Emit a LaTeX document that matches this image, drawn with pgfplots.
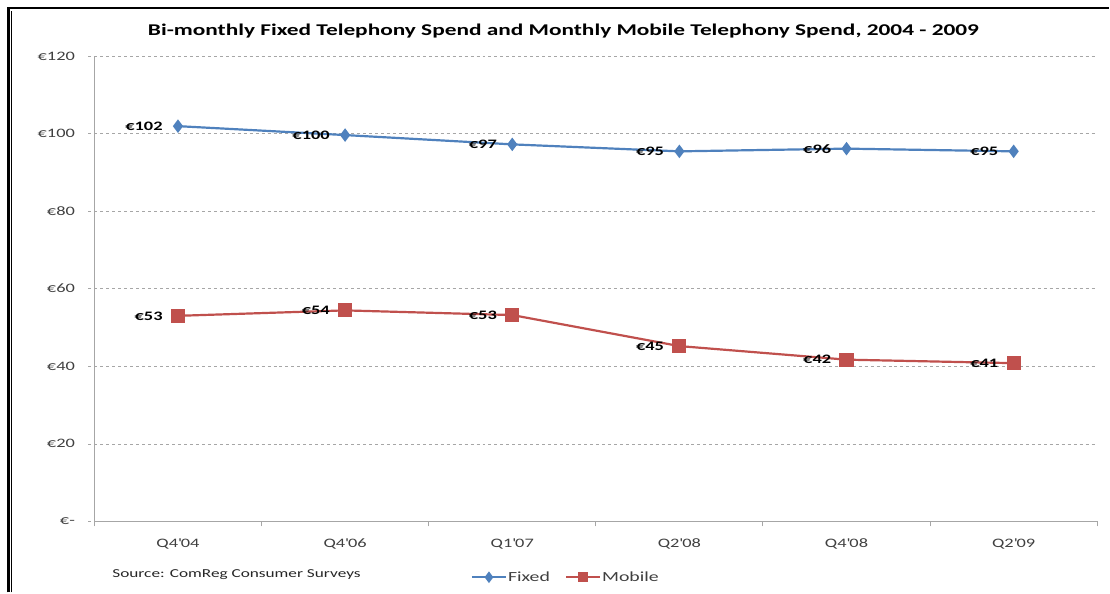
\documentclass[border=0pt]{standalone}
\usepackage{pgfplots}
\pgfplotsset{compat=1.18}
\usepackage{fontspec}
\setmainfont{Carlito}[FakeStretch=1.42]
\definecolor{fixedblue}{HTML}{4F81BD}
\definecolor{mobilered}{HTML}{C0504D}
\definecolor{axisgray}{HTML}{A6A6A6}
\definecolor{labelgray}{HTML}{404040}
\newcommand{\q}{\textquotesingle}

\begin{document}
\begin{tikzpicture}
  \path (0bp,0bp) rectangle (1110bp,593bp);
  % frame round the chart (top and left only)
  \draw[line width=2.5bp,black] (8.5bp,0bp) -- (8.5bp,585bp) -- (1110bp,585bp);
  \draw[line width=0.8bp,black] (11.5bp,0bp) -- (11.5bp,582bp);

  \node[font=\bfseries\fontsize{16.5}{19}\selectfont] at (564bp,562bp)
    {Bi-monthly Fixed Telephony Spend and Monthly Mobile Telephony Spend, 2004 - 2009};
  \node[anchor=west,font=\fontsize{12.2}{14}\selectfont,text=black!85] at (109bp,18bp)
    {Source: ComReg Consumer Surveys};

  \begin{axis}[
    at={(94.5bp,71bp)}, anchor=south west,
    width=1004bp, height=466bp, scale only axis,
    xmin=-0.5, xmax=5.5, ymin=0, ymax=120,
    axis lines*=left,
    axis line style={axisgray, line width=1bp},
    ytick={0,20,...,120},
    yticklabels={€-,€20,€40,€60,€80,€100,€120},
    xtick={0,...,5},
    xticklabels={Q4\q04,Q4\q06,Q1\q07,Q2\q08,Q4\q08,Q2\q09},
    minor xtick={-0.5,0.5,...,5.5},
    major x tick style={draw=none},
    minor x tick style={axisgray, line width=1bp},
    y tick style={black!35, line width=0.6bp, dashed},
    tick align=outside,
    major tick length=6bp, minor tick length=5bp,
    ymajorgrids,
    grid style={dashed, black!35, line width=0.6bp},
    ticklabel style={font=\fontsize{13}{15}\selectfont, text=labelgray},
    xticklabel style={yshift=-8bp},
    yticklabel style={xshift=-10bp},
    legend columns=2,
    legend style={at={(0.4696,-0.12)}, anchor=center, draw=none,
      font=\fontsize{14}{16}\selectfont, text=labelgray,
      column sep=0bp, nodes={inner xsep=1bp},
      /tikz/every even column/.append style={column sep=14bp}},
    legend image code/.code={
      \draw[mark repeat=2,mark phase=2,mark size=4bp] plot coordinates {(0bp,0bp) (17bp,0bp) (34bp,0bp)};
    },
    every node near coord/.append style={anchor=east, xshift=-11bp,
      text=black, font=\bfseries\fontsize{13}{15}\selectfont},
  ]
    \addplot[fixedblue, line width=2.2bp, mark=diamond*, mark size=5bp,
      mark options={fill=fixedblue},
      point meta=explicit symbolic, nodes near coords={\pgfplotspointmeta}]
      coordinates {(0,101.9)[€102] (1,99.6)[€100] (2,97.2)[€97]
                   (3,95.4)[€95] (4,96.1)[€96] (5,95.4)[€95]};
    \addplot[mobilered, line width=2.2bp, mark=square*, mark size=6bp,
      mark options={fill=mobilered},
      point meta=explicit symbolic, nodes near coords={\pgfplotspointmeta}]
      coordinates {(0,53.0)[€53] (1,54.4)[€54] (2,53.2)[€53]
                   (3,45.2)[€45] (4,41.7)[€42] (5,40.8)[€41]};
    \legend{Fixed, Mobile}
  \end{axis}
\end{tikzpicture}
\end{document}
